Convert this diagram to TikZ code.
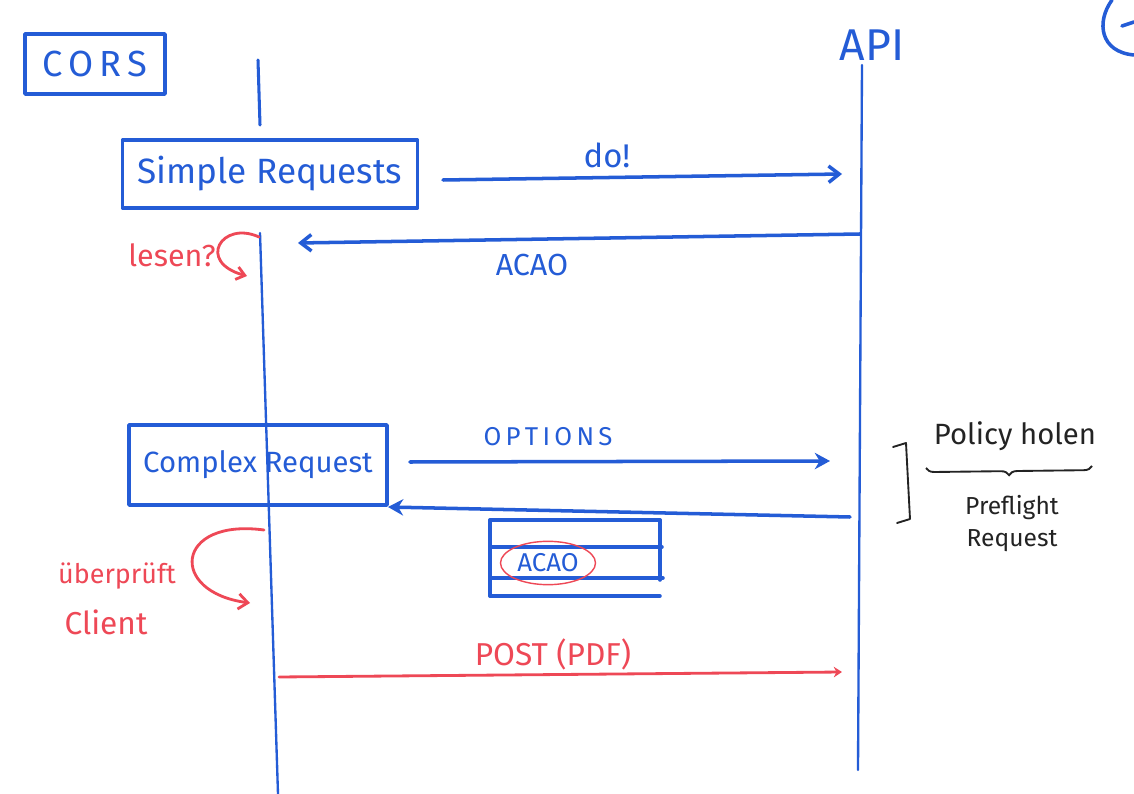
\documentclass[tikz,border=0pt]{standalone}
\usepackage{fontspec}
\setmainfont{Fira Sans}
\usetikzlibrary{arrows.meta,shapes.geometric,decorations.pathreplacing}
\definecolor{mblue}{RGB}{36,92,214}
\definecolor{mred}{RGB}{238,72,86}
\definecolor{mblack}{RGB}{35,35,35}
\tikzset{
  marker/.style={draw=mblue,line width=3pt,line cap=round,line join=round},
  life/.style={draw=mblue,line width=2pt,line cap=round},
  redline/.style={draw=mred,line width=2.4pt,line cap=round,line join=round},
  bluetxt/.style={text=mblue,inner sep=0pt},
  redtxt/.style={text=mred,inner sep=0pt},
  blacktxt/.style={text=mblack,inner sep=0pt},
  boxnode/.style={marker,inner sep=0pt,text=mblue},
  msg/.style={marker,-{Straight Barb[length=9pt,width=14pt,line width=3pt]}},
}
\newcommand{\fs}[1]{\fontsize{#1}{#1}\selectfont}
\begin{document}
\begin{tikzpicture}[x=0.03cm,y=-0.03cm]
\useasboundingbox (0,0) rectangle (1134,794);
\fill[white] (0,0) rectangle (1134,794);

% title box
\node[boxnode,minimum width=4.2cm,minimum height=1.8cm,font=\fs{31}] (cors) at (95,64) {C\,O\,R\,S};
% short vertical stroke
\coordinate (s1) at (258,60);
\coordinate (s2) at (260,125);
\draw[life,line width=2.6pt] (s1) -- (s2);

% API label and lifelines
\node[bluetxt,font=\fs{38}] (api) at (872,45) {API};
\coordinate (apiT) at (862,65);
\coordinate (apiB) at (858,770);
\draw[life] (apiT) -- (apiB);
\coordinate (cliT) at (260,233);
\coordinate (cliB) at (278,794);
\draw[life] (cliT) -- (cliB);

% top right cut-off mark
\coordinate (tr1) at (1112,0);
\coordinate (tr2) at (1134,55);
\draw[marker] (tr1) .. controls (1096,22) and (1100,52) .. (tr2);
\coordinate (tr3) at (1122,26);
\coordinate (tr4) at (1134,22);
\draw[marker] (tr3) -- (tr4);

% simple requests
\node[boxnode,minimum width=8.85cm,minimum height=2.04cm,font=\fs{30}] (sr) at (270,174) {Simple Requests};
\coordinate (doS) at (443,180);
\coordinate (doE) at (842,174);
\draw[msg] (doS) -- (doE);
\node[bluetxt,font=\fs{28}] (do) at (607,155) {do!};
\coordinate (acS) at (860,234);
\coordinate (acE) at (298,243);
\draw[msg] (acS) -- (acE);
\node[bluetxt,font=\fs{26}] (acao1) at (532,265) {ACAO};

% lesen?
\node[redtxt,font=\fs{26}] (lesen) at (172,255) {lesen?};
\coordinate (lS) at (259,237);
\coordinate (lE) at (247,276);
\draw[redline,-{Straight Barb[length=7pt,width=11pt,line width=2.4pt]}] (lS) .. controls (222,220) and (196,262) .. (lE);

% complex request
\node[boxnode,minimum width=7.74cm,minimum height=2.4cm,font=\fs{25}] (cr) at (258,465) {Complex Request};
\coordinate (opS) at (410,462);
\coordinate (opE) at (830,461);
\draw[msg,-{Stealth[length=13pt,width=14pt]}] (opS) -- (opE);
\node[bluetxt,font=\fs{22}] (options) at (548,437) {O\,P\,T\,I\,O\,N\,S};
\coordinate (rS) at (850,517);
\coordinate (rE) at (388,507);
\draw[msg,-{Stealth[length=13pt,width=14pt]}] (rS) -- (rE);

% response table
\coordinate (t1l) at (490,520); \coordinate (t1r) at (660,520);
\coordinate (t2l) at (490,547); \coordinate (t2r) at (662,547);
\coordinate (t3l) at (490,578); \coordinate (t3r) at (663,578);
\coordinate (t4l) at (490,596); \coordinate (t4r) at (660,596);
\draw[marker] (t1l) -- (t1r);
\draw[marker] (t2l) -- (t2r);
\draw[marker] (t3l) -- (t3r);
\draw[marker] (t4l) -- (t4r);
\draw[marker] (t1l) -- (t4l);
\draw[marker] (t1r) -- (660,580);
\node[ellipse,draw=mred,line width=1.2pt,text=mblue,font=\fs{22},inner sep=1pt,minimum width=2.85cm,minimum height=1.3cm] (acao2) at (548,563) {ACAO};

% bracket and policy notes
\coordinate (b1) at (893,447);
\coordinate (b2) at (906,443);
\coordinate (b3) at (910,519);
\coordinate (b4) at (897,523);
\draw[draw=mblack,line width=1.6pt,line cap=round,line join=round] (b1) -- (b2) -- (b3) -- (b4);
\node[blacktxt,font=\fs{25}] (policy) at (1015,436) {Policy holen};
\coordinate (ub1) at (926,468);
\coordinate (ub2) at (1092,466);
\draw[draw=mblack,line width=1.6pt,decorate,decoration={brace,mirror,amplitude=7pt}] (ub1) -- (ub2);
\node[blacktxt,font=\fs{21}] (pre1) at (1012,508) {Preflight};
\node[blacktxt,font=\fs{21}] (pre2) at (1012,541) {Request};

% überprüft Client
\node[redtxt,font=\fs{23}] (ueb) at (117,576) {überprüft};
\node[redtxt,font=\fs{27}] (client) at (106,622) {Client};
\coordinate (uS) at (264,530);
\coordinate (uE) at (250,603);
\draw[redline,-{Straight Barb[length=8pt,width=13pt,line width=2.4pt]}] (uS) .. controls (175,518) and (168,592) .. (uE);

% POST (PDF)
\coordinate (pS) at (279,677);
\coordinate (pE) at (842,672);
\draw[redline,-{Stealth[length=7pt,width=9pt]}] (pS) -- (pE);
\node[redtxt,font=\fs{27}] (post) at (553,654) {POST (PDF)};
\end{tikzpicture}
\end{document}
